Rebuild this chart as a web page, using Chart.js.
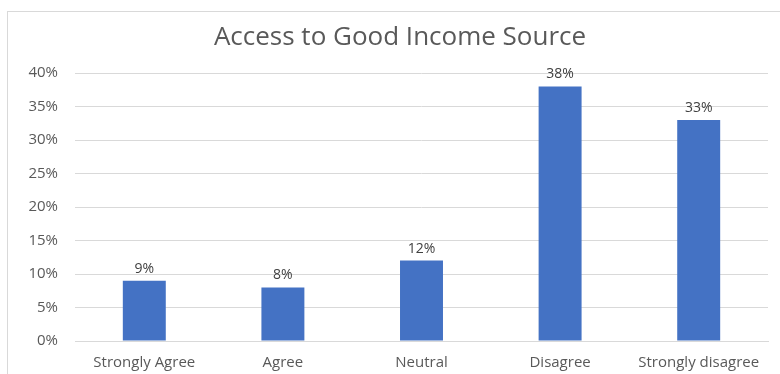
<!DOCTYPE html>
<html>
<head>
<meta charset="utf-8">
<script src="https://cdn.jsdelivr.net/npm/chart.js@4.4.1/dist/chart.umd.min.js"></script>
<style>
  html, body { margin: 0; padding: 0; background: #fff; }
  #wrap { position: relative; width: 780px; height: 374px; overflow: hidden; }
  #frame { position: absolute; left: 7px; top: 11px; width: 900px; height: 500px; border: 1px solid #d9d9d9; box-sizing: border-box; }
  #chart { position: absolute; left: 0; top: 0; }
</style>
</head>
<body>
<div id="wrap">
  <div id="frame"></div>
  <canvas id="chart" width="780" height="374"></canvas>
</div>
<script>
const categories = ['Strongly Agree', 'Agree', 'Neutral', 'Disagree', 'Strongly disagree'];
const shares = [9, 8, 12, 38, 33];
const yTicks = [0, 5, 10, 15, 20, 25, 30, 35, 40];
const chartTitle = 'Access to Good Income Source';

const textColor = '#595959';
const fontFamily = "'Open Sans', 'Liberation Sans', sans-serif";

// writes the percentage above every bar
const barLabels = {
  id: 'barLabels',
  afterDatasetsDraw(chart) {
    const { ctx } = chart;
    const meta = chart.getDatasetMeta(0);
    ctx.save();
    ctx.font = `14px ${fontFamily}`;
    ctx.fillStyle = '#404040';
    ctx.textAlign = 'center';
    ctx.textBaseline = 'bottom';
    meta.data.forEach((bar, i) => {
      ctx.fillText(shares[i] + '%', bar.x, bar.y - 5);
    });
    ctx.restore();
  }
};

// title centred on the frame rather than on the canvas
const frameTitle = {
  id: 'frameTitle',
  afterDraw(chart) {
    const { ctx } = chart;
    ctx.save();
    ctx.font = `26px ${fontFamily}`;
    ctx.fillStyle = textColor;
    ctx.textAlign = 'center';
    ctx.textBaseline = 'middle';
    ctx.fillText(chartTitle, 400, 38);
    ctx.restore();
  }
};

new Chart(document.getElementById('chart'), {
  type: 'bar',
  data: {
    labels: categories,
    datasets: [{
      data: shares,
      backgroundColor: '#4472c4',
      barPercentage: 0.31,
      categoryPercentage: 1
    }]
  },
  options: {
    responsive: false,
    animation: false,
    layout: { padding: { left: 0, right: 12, top: 73, bottom: 0 } },
    plugins: {
      legend: { display: false },
      tooltip: { enabled: false },
      title: { display: false }
    },
    scales: {
      x: {
        grid: { display: false },
        border: { display: true, color: '#d9d9d9' },
        ticks: {
          color: textColor,
          font: { family: fontFamily, size: 15 },
          padding: 5,
          maxRotation: 0
        },
        afterFit(scale) { scale.height = 33; }
      },
      y: {
        min: 0,
        max: 40,
        afterBuildTicks(scale) { scale.ticks = yTicks.map(v => ({ value: v })); },
        grid: { color: '#d9d9d9', drawTicks: false },
        border: { display: false },
        ticks: {
          color: textColor,
          font: { family: fontFamily, size: 15 },
          padding: 17,
          callback: v => v + '%'
        },
        afterFit(scale) { scale.width = 75; }
      }
    }
  },
  plugins: [barLabels, frameTitle]
});
</script>
</body>
</html>
